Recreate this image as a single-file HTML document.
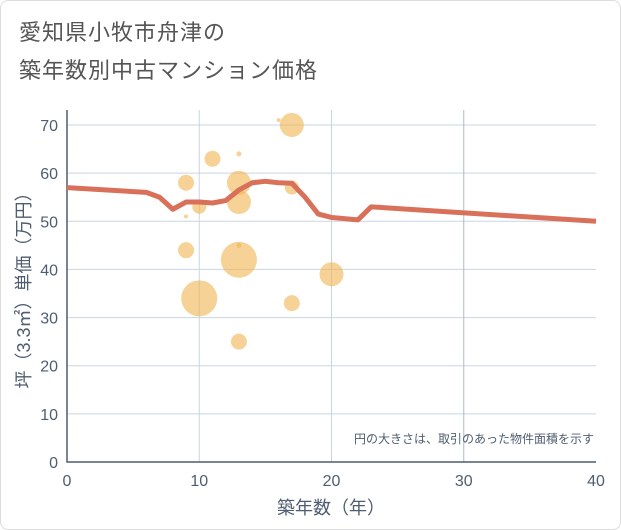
<!DOCTYPE html>
<html><head><meta charset="utf-8">
<style>
body{margin:0;background:#fff;}
#wrap{position:relative;width:619px;height:528px;border:1px solid #ddd;border-radius:8px;background:#fff;font-family:"Liberation Sans","Noto Sans CJK JP",sans-serif;}
.title{position:absolute;left:18px;font-size:22px;color:#555;letter-spacing:1px;}
</style></head><body>
<div id="wrap">
<div class="title" style="top:14px">愛知県小牧市舟津の</div>
<div class="title" style="top:52px">築年数別中古マンション価格</div>
<svg id="chart" width="621" height="530" style="position:absolute;left:-1px;top:-1px"></svg>
</div>
<script>
const xTicks=[0,10,20,30,40];
const yTicks=[0,10,20,30,40,50,60,70];
const bubbleX=[17,16,11,13,9,13,17,10,13,9,13,9,13,20,10,17,13];
const bubbleY=[70,71,63,64,58,58,57,53,54,51,45,44,42,39,34,33,25];
const bubbleR=[12,2,8,2.5,8,12,7,7,12,2,2.5,8,18,12,18,8,8];
const lineX=[0,6,7,8,9,10,11,12,13,14,15,16,17,18,19,20,22,23,40];
const lineY=[57,56,55,52.5,54,54,53.8,54.3,56.5,58,58.3,58,57.9,55,51.5,50.8,50.3,53,50];
const ns='http://www.w3.org/2000/svg';
const svg=document.getElementById('chart');
const TC='#4f5d70';
const X=v=>67+v*(596-67)/40;
const Y=v=>462-v*(462-125)/70;
function mk(t,a){const e=document.createElementNS(ns,t);for(const k in a)e.setAttribute(k,a[k]);svg.appendChild(e);return e;}
yTicks.forEach(v=>{
 if(v>0){const g=mk('line',{x1:67,x2:596,y1:Y(v),y2:Y(v),stroke:'#c9d5e3','stroke-width':1});
 
 }
 const t=mk('text',{x:58,y:Y(v)+6,'text-anchor':'end','font-size':16,fill:TC});t.textContent=v;
 
 
});
xTicks.forEach(v=>{
 if(v>0&&v<40){const g=mk('line',{x1:X(v),x2:X(v),y1:110,y2:462,stroke:v==30?'#a9bcd3':'#c9d5e3','stroke-width':1});
 
 }
 const t=mk('text',{x:X(v),y:486,'text-anchor':'middle','font-size':16,fill:TC});t.textContent=v;
 
 
});
const ax=mk('path',{d:'M67 110V462H596',fill:'none',stroke:TC,'stroke-width':1.5});


bubbleX.forEach((v,i)=>{
 const c=mk('circle',{cx:X(v),cy:Y(bubbleY[i]),r:bubbleR[i],fill:'rgba(240,180,80,0.6)'});
 
 
});
const p=mk('polyline',{points:lineX.map((v,i)=>X(v)+','+Y(lineY[i])).join(' '),fill:'none',stroke:'#d9705a','stroke-width':5,'stroke-linejoin':'round'});


const n=mk('text',{x:594,y:443,'text-anchor':'end','font-size':12,fill:TC});n.textContent='円の大きさは、取引のあった物件面積を示す';


const xt=mk('text',{x:331,y:514,'text-anchor':'middle','font-size':18,fill:TC});xt.textContent='築年数（年）';


const yt=mk('text',{x:0,y:0,'text-anchor':'middle','font-size':18,fill:TC,transform:'translate(30,286) rotate(-90)'});yt.textContent='坪（3.3㎡）単価（万円）';


</script>
</body></html>
